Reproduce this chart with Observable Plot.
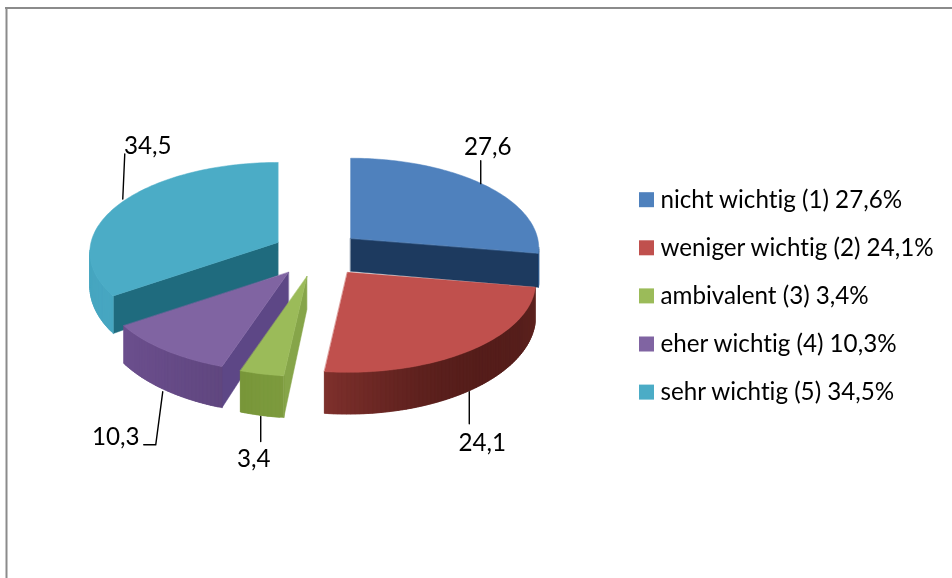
<!DOCTYPE html>
<html>
<head>
<meta charset="utf-8">
<script src="https://cdn.jsdelivr.net/npm/d3@7"></script>
<script src="https://cdn.jsdelivr.net/npm/@observablehq/plot@0.6"></script>
<style>
html,body{margin:0;padding:0;background:#fff}
svg{display:block;filter:blur(0.35px)}
svg text{font-variant-ligatures:none}
</style>
</head>
<body>
<div id="chart"></div>
<script>
// ---- data ----
const categories = ["nicht wichtig (1)", "weniger wichtig (2)", "ambivalent (3)", "eher wichtig (4)", "sehr wichtig (5)"];
const values = [27.6, 24.1, 3.4, 10.3, 34.5];
const valueLabels = ["27,6", "24,1", "3,4", "10,3", "34,5"];

// ---- styles ----
const topColors = ["#4f81bd", "#c0504d", "#9bbb59", "#8064a2", "#4bacc6"];
const legendColors = ["#4f81bd", "#c0504d", "#9bbb59", "#8064a2", "#4bacc6"];
const cutColors = ["#1d3a5f", "#5a1f1c", "#86a549", "#5d4786", "#1f6b7e"];
const wallStops = [
  ["#2a5686", "#2a5686"],
  ["#5f2420", "#521c19", "#571e1b", "#7e302c"],
  ["#7d9b3e", "#789639"],
  ["#60477f", "#674b88", "#6b4f8d"],
  ["#47a6c1", "#48a8c3"]
];
const fontFamily = "Lato, Carlito, Calibri, sans-serif";
const fontSize = 24.2;

// ---- geometry of the tilted, exploded pie ----
const center = {x: 318, y: 253}, radius = {x: 187, y: 88.9};
const explode = {x: 44.7, y: 23.6}, depth = 33, perspective = 0.111;
const sliceNudge = [-2, 2, -2, -3, -1];
const leaderOffsets = [
  [[-5, -1], [-5, -24]],
  [[0, 2], [0, 34]],
  [[-3, 1], [-3, 26]],
  [[-5, 2], [-12, 55], [-24, 55]],
  [[1, -4], [3, -49]]
];
const labelOffsets = [[2, -37], [13, 53], [-10, 44], [-52, 47], [26, -57]];
const legend = {x: 639, y: 199.7, step: 48.1, size: 15, gap: 6};

const total = d3.sum(values);
let acc = 0;
const slices = values.map((v, i) => {
  const a0 = acc / total * 2 * Math.PI;
  acc += v;
  const a1 = acc / total * 2 * Math.PI;
  const mid = (a0 + a1) / 2;
  return {i, a0, a1, mid,
    ax: center.x + explode.x * Math.sin(mid) + sliceNudge[i],
    ay: center.y - explode.y * Math.cos(mid)};
});
function rim(s, a, low = false) {
  const c = Math.cos(a), w = 1 + perspective * c;
  return [s.ax + radius.x * Math.sin(a) / w,
          s.ay - radius.y * c / w + (low ? depth / (w * w) : 0)];
}
const apex = (s, low = false) => [s.ax, s.ay + (low ? depth : 0)];

const polys = [];
let pid = 0;
const addPoly = (pts, color) => { const id = pid++; pts.forEach(p => polys.push({id, x: p[0], y: p[1], color})); };

for (const i of [0, 4, 3, 2, 1]) {
  const s = slices[i];
  const n = Math.max(4, Math.ceil((s.a1 - s.a0) * 48));
  const as = d3.range(n + 1).map(k => s.a0 + (s.a1 - s.a0) * k / n);
  // cut faces
  const startFace = [apex(s), rim(s, s.a0), rim(s, s.a0, true), apex(s, true)];
  const endFace = [apex(s), rim(s, s.a1), rim(s, s.a1, true), apex(s, true)];
  const signed = pts => { let t = 0; pts.forEach((p, k) => { const q = pts[(k + 1) % pts.length]; t += p[0] * q[1] - q[0] * p[1]; }); return t; };
  if (signed(startFace) < -1) addPoly(startFace, cutColors[i]);
  if (signed(endFace) > 1) addPoly(endFace, cutColors[i]);
  // outer wall, front-facing pieces only; each piece reaches under the next so no seam shows
  const shade = d3.interpolateRgbBasis(wallStops[i]);
  for (let k = 0; k < n; k++) {
    const p = rim(s, as[k]), q = rim(s, as[k + 1]);
    if (q[0] < p[0]) {
      const e = as[Math.min(k + 2, n)];
      addPoly([p, q, rim(s, e), rim(s, e, true), rim(s, as[k + 1], true), rim(s, as[k], true)], shade((k + .5) / n));
    }
  }
  // top face
  addPoly([apex(s), ...as.map(a => rim(s, a))], topColors[i]);
}

// leaders and value labels
const leaders = [], labels = [];
slices.forEach(s => {
  const lowFront = Math.cos(s.mid) < 0;
  const a = rim(s, s.mid, lowFront);
  const ax = a[0] - sliceNudge[s.i];
  leaderOffsets[s.i].forEach(o => leaders.push({k: s.i, x: ax + o[0], y: a[1] + o[1]}));
  labels.push({x: ax + labelOffsets[s.i][0], y: a[1] + labelOffsets[s.i][1], text: valueLabels[s.i]});
});

const legendRows = categories.map((c, i) => ({
  i, color: legendColors[i],
  label: `${c} ${valueLabels[i]}%`,
  y: legend.y + i * legend.step
}));

const chart = Plot.plot({
  width: 952, height: 578, margin: 0,
  x: {domain: [0, 952], range: [0, 952], axis: null},
  y: {domain: [0, 578], range: [0, 578], axis: null},
  style: {background: "#fff"},
  marks: [
    Plot.ruleX([6], {y1: 7, y2: 578, stroke: "#8b8b8b", strokeWidth: 2}),
    Plot.ruleY([7.5], {x1: 5, x2: 952, stroke: "#8b8b8b", strokeWidth: 2}),
    Plot.line(polys, {x: "x", y: "y", z: "id", fill: "color", stroke: "color", strokeWidth: 0.5, curve: "linear-closed"}),
    Plot.line(leaders, {x: "x", y: "y", z: "k", stroke: "#000", strokeWidth: 1.4}),
    Plot.text(labels, {x: "x", y: "y", text: "text", fontSize, fontFamily, fill: "#000"}),
    Plot.rect(legendRows, {
      x1: () => legend.x, x2: () => legend.x + legend.size,
      y1: d => d.y - legend.size / 2, y2: d => d.y + legend.size / 2,
      fill: "color"
    }),
    Plot.text(legendRows, {
      x: () => legend.x + legend.size + legend.gap, y: "y", text: "label",
      textAnchor: "start", fontSize, fontFamily, fill: "#000"
    })
  ]
});
document.getElementById("chart").append(chart);
</script>
</body>
</html>
